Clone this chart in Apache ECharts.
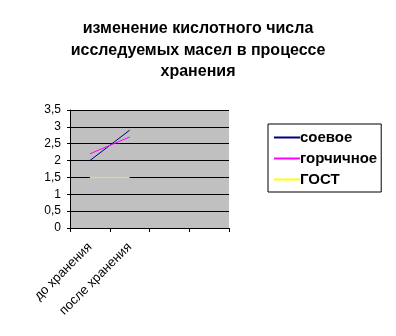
<!DOCTYPE html>
<html><head><meta charset="utf-8">
<script src="https://cdn.jsdelivr.net/npm/echarts@6/dist/echarts.min.js"></script>
<style>html,body{margin:0;padding:0;background:#fff}#c{width:396px;height:336px}</style>
</head><body><div id="c"></div>
<script>
const categories = ["до хранения", "после хранения", "", ""];
const soy = [2.0, 2.9, null, null];
const mustard = [2.2, 2.7, null, null];
const gost = [1.5, 1.5, null, null];
const yTicks = [0, 0.5, 1, 1.5, 2, 2.5, 3, 3.5];

const chart = echarts.init(document.getElementById('c'));
const font = 'Liberation Sans, Arial, sans-serif';
chart.setOption({
  animation: false,
  title: {
    text: "изменение кислотного числа\nисследуемых масел в процессе\nхранения",
    left: 'center', top: 13,
    textStyle: {fontFamily: font, fontSize: 16, fontWeight: 'bold', color: '#000', lineHeight: 21.5}
  },
  legend: {
    orient: 'vertical', left: 268, top: 124, width: 117,
    borderColor: '#000', borderWidth: 1, borderRadius: 0,
    padding: [6, 4, 5, 6], itemGap: 6,
    itemWidth: 26, itemHeight: 2, icon: 'rect',
    textStyle: {fontFamily: font, fontSize: 15, fontWeight: 'bold', color: '#000', padding: [0,0,0,-5]},
    data: ['соевое', 'горчичное', 'ГОСТ']
  },
  grid: {left: 70, right: 167, top: 110, bottom: 108, show: true, backgroundColor: '#C0C0C0', borderWidth: 0},
  xAxis: {
    type: 'category', data: categories, boundaryGap: true,
    axisLine: {lineStyle: {color: '#000', width: 1}},
    axisTick: {show: true, length: 4, lineStyle: {color: '#000'}, alignWithLabel: false},
    axisLabel: {rotate: 45, interval: 0, fontFamily: font, fontSize: 13, color: '#000', margin: 17},
    splitLine: {show: false}
  },
  yAxis: {
    type: 'value', min: 0, max: 3.5, interval: 0.5,
    axisLine: {show: true, lineStyle: {color: '#000'}},
    axisTick: {show: true, length: 3, lineStyle: {color: '#000'}},
    axisLabel: {fontFamily: font, fontSize: 12, color: '#000', margin: 9,
      formatter: v => String(v).replace('.', ',')},
    splitLine: {show: true, lineStyle: {color: '#000', width: 1}}
  },
  series: [
    {name: 'соевое', type: 'line', data: soy, symbol: 'none', lineStyle: {color: '#000080', width: 1}, itemStyle: {color: '#000080'}},
    {name: 'горчичное', type: 'line', data: mustard, symbol: 'none', lineStyle: {color: '#FF00FF', width: 1}, itemStyle: {color: '#FF00FF'}},
    {name: 'ГОСТ', type: 'line', data: gost, symbol: 'none', lineStyle: {color: '#FFFF00', width: 1}, itemStyle: {color: '#FFFF00'}}
  ]
});
</script></body></html>
